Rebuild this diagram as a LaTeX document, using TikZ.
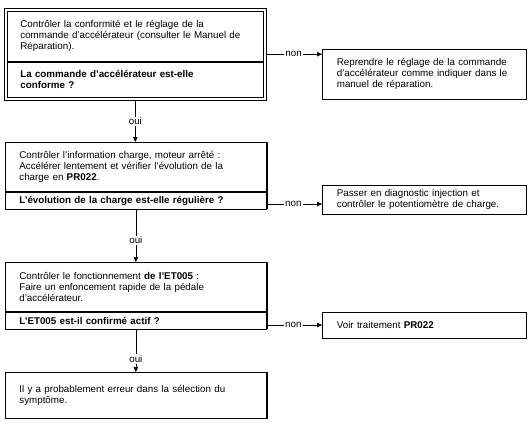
\documentclass[tikz,border=0pt]{standalone}
\usepackage{fontspec}
\setmainfont{Liberation Sans}
\usetikzlibrary{arrows.meta,fit}
\begin{document}
\begin{tikzpicture}[x=1pt,y=-1pt,
  every node/.style={font=\fontsize{9.8}{11}\selectfont},
  sect/.style={draw, line width=0.7pt, anchor=north west, align=left, inner xsep=14pt, inner ysep=0pt},
  side/.style={draw, line width=0.7pt, anchor=north west, align=left, inner xsep=14.5pt, inner ysep=0pt, text width=175pt, minimum height=#1},
  conn/.style={line width=0.7pt},
  arr/.style={line width=0.7pt, -{Triangle[length=5pt,width=4.5pt]}},
  lab/.style={fill=white, inner sep=1.2pt}
]
\useasboundingbox (0,0) rectangle (532,433);
% Box 1 (double border)
\node[sect, inner xsep=13pt, text width=230pt, minimum height=50pt] (b1a) at (7,11)
 {Contrôler la conformité et le réglage de la\\commande d'accélérateur (consulter le Manuel de\\Réparation).};
\node[sect, inner xsep=13pt, text width=230pt, minimum height=35pt] (b1q) at (b1a.south west)
 {\textbf{La commande d'accélérateur est-elle}\\\textbf{conforme ?}};
\node[draw, line width=0.7pt, fit=(b1a)(b1q), inner sep=3pt] (b1) {};
% Box 2
\node[sect, text width=233pt, minimum height=49pt] (b2a) at (5,142)
 {Contrôler l'information charge, moteur arrêté :\\Accélérer lentement et vérifier l'évolution de la\\charge en \textbf{PR022}.};
\node[sect, text width=233pt, minimum height=17pt] (b2q) at (b2a.south west)
 {\textbf{L'évolution de la charge est-elle régulière ?}};
\draw[line width=1.6pt] (b2a.north east) -- (b2q.south east);
% Box 3
\node[sect, text width=233pt, minimum height=49pt] (b3a) at (5,262)
 {Contrôler le fonctionnement \textbf{de l'ET005} :\\Faire un enfoncement rapide de la pédale\\d'accélérateur.};
\node[sect, text width=233pt, minimum height=17pt] (b3q) at (b3a.south west)
 {\textbf{L'ET005 est-il confirmé actif ?}};
\draw[line width=1.6pt] (b3a.north east) -- (b3q.south east);
% Box 4
\node[sect, text width=233pt, minimum height=46pt] (b4) at (5,372)
 {Il y a probablement erreur dans la sélection du\\symptôme.};
\draw[line width=1.6pt] (b4.north east) -- (b4.south east);
% Side boxes
\node[side=50pt] (r1) at (322,49)
 {Reprendre le réglage de la commande\\d'accélérateur comme indiquer dans le\\manuel de réparation.};
\node[side=29pt] (r2) at (322,185)
 {Passer en diagnostic injection et\\contrôler le potentiomètre de charge.};
\node[side=26pt] (r3) at (322,312)
 {Voir traitement \textbf{PR022}};
% non connectors
\draw[arr] (b1.east) -- (b1.east -| r1.west) node[lab, midway, xshift=-1pt] {non};
\coordinate (c2) at ([yshift=-3.5pt]b2q.east);
\draw[arr] (c2) -- (c2 -| r2.west) node[lab, midway, xshift=-1pt] {non};
\coordinate (c3) at ([yshift=-4.5pt]b3q.east);
\draw[arr] (c3) -- (c3 -| r3.west) node[lab, midway, xshift=-1pt] {non};
% oui connectors
\draw[arr] (b1.south) -- (b1.south |- b2a.north) node[lab, pos=0.5] {oui};
\draw[arr] (b2q.south) -- (b2q.south |- b3a.north) node[lab, pos=0.59] {oui};
\draw[arr] (b3q.south) -- (b3q.south |- b4.north) node[lab, pos=0.7] {oui};
\end{tikzpicture}
\end{document}
